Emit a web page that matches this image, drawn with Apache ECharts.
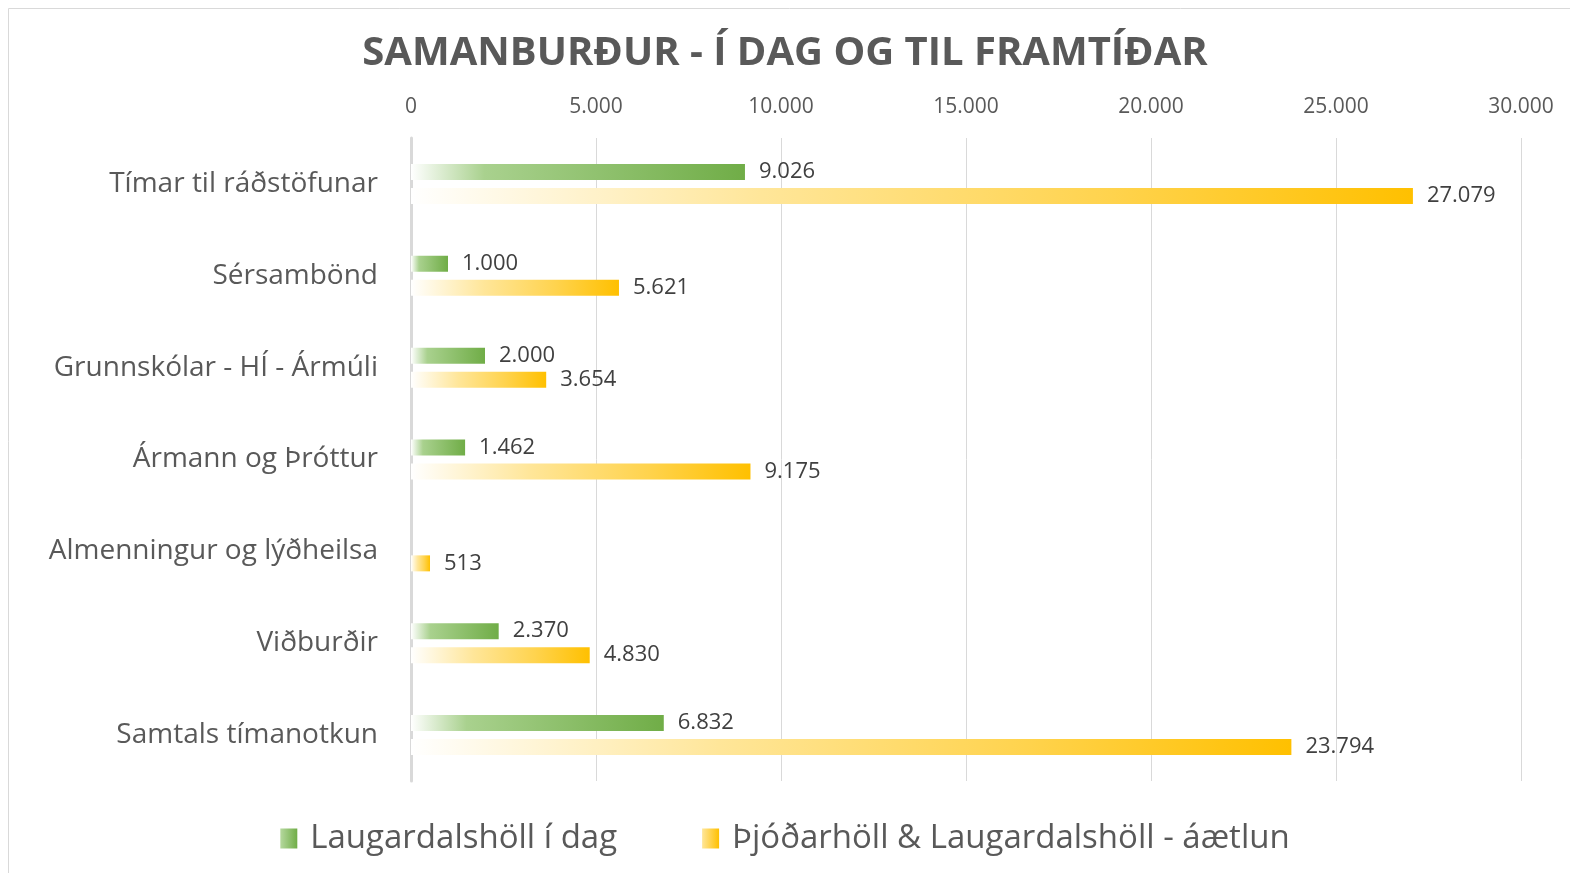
<!DOCTYPE html>
<html>
<head>
<meta charset="utf-8">
<script src="https://cdn.jsdelivr.net/npm/echarts@6/dist/echarts.min.js"></script>
<style>html,body{margin:0;padding:0;background:#fff;}#c{width:1570px;height:873px;}</style>
</head>
<body>
<div id="c"></div>
<script>
const categories = ["Tímar til ráðstöfunar", "Sérsambönd", "Grunnskólar - HÍ - Ármúli", "Ármann og Þróttur", "Almenningur og lýðheilsa", "Viðburðir", "Samtals tímanotkun"];
const seriesNames = ["Laugardalshöll í dag", "Þjóðarhöll & Laugardalshöll - áætlun"];
const todayValues = [9026, 1000, 2000, 1462, null, 2370, 6832];
const planValues = [27079, 5621, 3654, 9175, 513, 4830, 23794];
const xTicks = [0, 5000, 10000, 15000, 20000, 25000, 30000];

const fmt = v => String(v).replace(/\B(?=(\d{3})+(?!\d))/g, '.');
const FONT = '"Open Sans"';
const chart = echarts.init(document.getElementById('c'));
const grad = stops => new echarts.graphic.LinearGradient(0, 0, 1, 0, stops.map((c, i) => ({offset: c[0], color: c[1]})));
const greenGrad = grad([[0, '#ffffff'], [0.22, '#a9d18e'], [1, '#70ad47']]);
const yellowGrad = grad([[0, '#ffffff'], [0.35, '#ffe699'], [0.7, '#ffd34d'], [1, '#ffc000']]);
const labelStyle = {show: true, position: 'right', distance: 14, color: '#404040', fontSize: 22, fontFamily: FONT,
  formatter: p => fmt(p.value)};
chart.setOption({
  animation: false,
  textStyle: {fontFamily: FONT},
  graphic: [{type: 'rect', shape: {x: 8.5, y: 8.5, width: 1600, height: 900}, style: {fill: 'none', stroke: '#d9d9d9', lineWidth: 1}, silent: true}],
  title: {text: 'SAMANBURÐUR - Í DAG OG TIL FRAMTÍÐAR', left: 'center', top: 29,
    textStyle: {fontSize: 40, fontWeight: 'bold', color: '#595959', fontFamily: FONT}},
  legend: {
    data: [
      {name: seriesNames[0], itemStyle: {color: grad([[0, '#b5d89e'], [1, '#70ad47']])}},
      {name: seriesNames[1], itemStyle: {color: grad([[0, '#ffe699'], [1, '#ffc000']])}}
    ],
    bottom: 13, left: 'center', icon: 'rect', itemWidth: 17, itemHeight: 20, itemGap: 85,
    textStyle: {fontSize: 33, color: '#595959', fontFamily: FONT, padding: [0, 0, 0, 8]}},
  grid: {left: 411, right: 49, top: 138, bottom: 92},
  xAxis: {type: 'value', position: 'top', min: 0, max: 30000, interval: 5000,
    axisLabel: {fontSize: 21, color: '#595959', margin: 20, formatter: v => fmt(v)},
    splitLine: {lineStyle: {color: '#d9d9d9', width: 1}}, axisLine: {show: false}, axisTick: {show: false}},
  yAxis: {type: 'category', data: categories, inverse: true,
    axisLabel: {fontSize: 28, color: '#595959', margin: 33},
    axisLine: {lineStyle: {color: '#d9d9d9', width: 3}}, axisTick: {show: false}},
  series: [
    {name: seriesNames[0], type: 'bar', data: todayValues, barWidth: 16, barGap: '50%',
      itemStyle: {color: greenGrad}, label: labelStyle},
    {name: seriesNames[1], type: 'bar', data: planValues, barWidth: 16, barGap: '50%',
      itemStyle: {color: yellowGrad}, label: labelStyle}
  ]
});
</script>
</body>
</html>
